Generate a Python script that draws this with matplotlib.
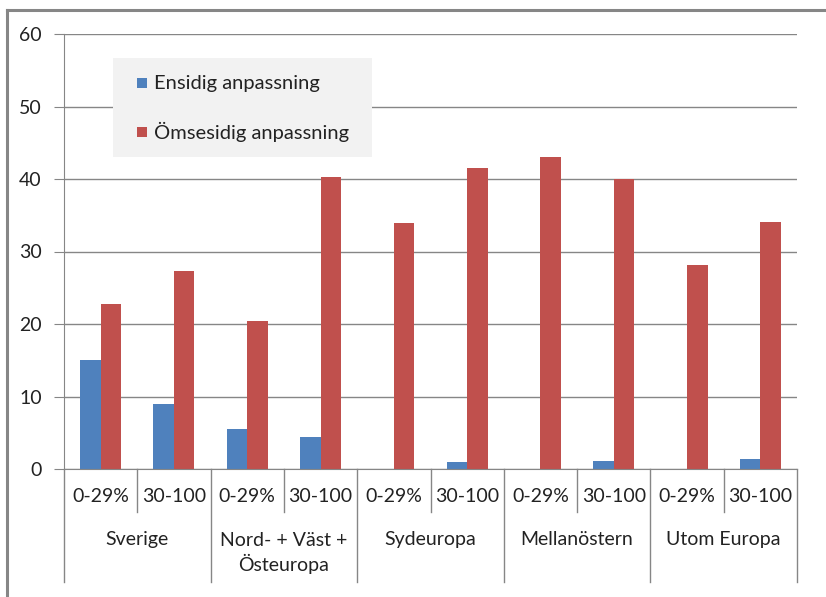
import numpy as np
import matplotlib.pyplot as plt
from matplotlib.lines import Line2D
from matplotlib.patches import Rectangle

# data
groups = ["Sverige", "Nord- + Väst +\nÖsteuropa", "Sydeuropa", "Mellanöstern", "Utom Europa"]
subcats = ["0-29%", "30-100"]
ensidig = [15.0, 9.0, 5.5, 4.4, 0, 1.0, 0, 1.1, 0, 1.4]
omsesidig = [22.7, 27.3, 20.4, 40.3, 34.0, 41.5, 43.0, 40.0, 28.2, 34.1]
series_names = ["Ensidig anpassning", "Ömsesidig anpassning"]
yticks = [0, 10, 20, 30, 40, 50, 60]

blue = "#4F81BD"
red = "#C0504D"
gray = "#868686"
txt = "#222222"
fs = 14

plt.rcParams['font.family'] = ['Lato', 'DejaVu Sans']

fig = plt.figure(figsize=(8.26, 5.97), dpi=100)
ax = fig.add_axes([64/826, 1 - 469/597, (797 - 64)/826, 435/597])

def ax_xy(px, py):
    # pixel position of the picture -> axes fraction
    return (px - 64) / 733, (469 - py) / 435

n = len(ensidig)
x = np.arange(n)
w = 0.28
ax.bar(x - w/2, ensidig, w, color=blue)
ax.bar(x + w/2, omsesidig, w, color=red)

ax.set_xlim(-0.5, n - 0.5)
ax.set_ylim(0, 60)
ax.set_yticks(yticks)
ax.tick_params(axis='y', length=7, color=gray, labelsize=fs, pad=9, labelcolor=txt)
ax.set_xticks([])
ax.yaxis.grid(True, color=gray, linewidth=1)
ax.set_axisbelow(True)
for s in ["top", "right"]:
    ax.spines[s].set_visible(False)
ax.spines["left"].set_color(gray)
ax.spines["bottom"].set_color(gray)

# hierarchical category axis
tr = ax.get_xaxis_transform()
for i in range(n):
    ax.text(i, -0.064, subcats[i % 2], transform=tr, ha='center', va='center',
            fontsize=fs, color=txt)
for b in range(n + 1):
    xb = b - 0.5
    y_end = -0.26 if b % 2 == 0 else -0.099
    ax.add_line(Line2D([xb, xb], [0, y_end], transform=tr, color=gray,
                       linewidth=1, clip_on=False))
for g, name in enumerate(groups):
    yc = -0.193 if "\n" in name else -0.163
    ax.text(2*g + 0.5, yc, name, transform=tr, ha='center', va='center',
            fontsize=fs, color=txt, linespacing=1.3)

# legend box drawn by hand to match the reference placement
x0, y0 = ax_xy(113, 157)
x1, y1 = ax_xy(372, 58)
ax.add_patch(Rectangle((x0, y0), x1 - x0, y1 - y0, transform=ax.transAxes,
                       facecolor="#F2F2F2", edgecolor="none", zorder=5))
for name, col, py in zip(series_names, [blue, red], [83, 132]):
    sx0, sy0 = ax_xy(137, py + 5)
    sx1, sy1 = ax_xy(147, py - 5)
    ax.add_patch(Rectangle((sx0, sy0), sx1 - sx0, sy1 - sy0, transform=ax.transAxes,
                           facecolor=col, edgecolor="none", zorder=6))
    tx, ty = ax_xy(154, py)
    ax.text(tx, ty, name, transform=ax.transAxes, ha='left', va='center',
            fontsize=fs + 0.5, color=txt, zorder=7)

# outer chart frame (top and left visible)
fig.add_artist(Line2D([7/826, 1], [1 - 10/597, 1 - 10/597], transform=fig.transFigure,
                      color=gray, linewidth=2.2))
fig.add_artist(Line2D([7/826, 7/826], [0, 1 - 10/597], transform=fig.transFigure,
                      color=gray, linewidth=2.2))

fig.savefig("out.png", dpi=100)
